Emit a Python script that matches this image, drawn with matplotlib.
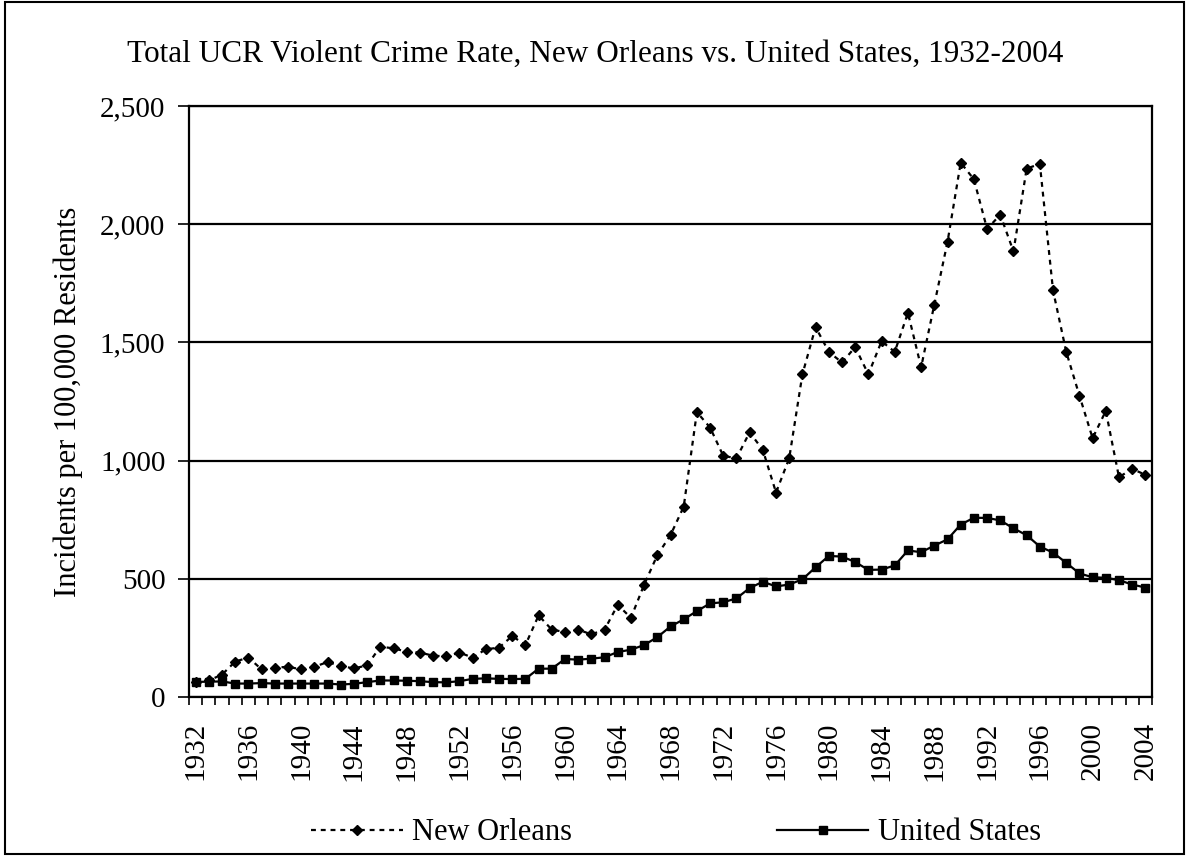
import matplotlib
matplotlib.use("Agg")
import matplotlib.pyplot as plt
from matplotlib.patches import Rectangle
from matplotlib.ticker import FuncFormatter, MultipleLocator

plt.rcParams['font.family'] = ['Liberation Serif', 'DejaVu Serif']

years = list(range(1932, 2005))

new_orleans = [65, 70, 95, 150, 167, 117, 124, 128, 117, 128,
               148, 131, 121, 134, 213, 206, 192, 188, 175, 172,
               188, 167, 202, 209, 258, 220, 345, 285, 275, 285,
               265, 285, 390, 335, 475, 600, 685, 805, 1205, 1140,
               1020, 1010, 1120, 1045, 865, 1010, 1365, 1565, 1460, 1415,
               1480, 1365, 1505, 1460, 1625, 1395, 1660, 1925, 2260, 2190,
               1980, 2040, 1885, 2235, 2255, 1720, 1460, 1275, 1095, 1210,
               930, 965, 940]

united_states = [64, 65, 66, 57, 57, 59, 57, 57, 57, 57,
                 57, 53, 56, 63, 70, 70, 69, 67, 63, 62,
                 67, 77, 79, 77, 76, 77, 120, 120, 160.9, 158.1,
                 162.3, 168.2, 190.6, 200.2, 220.0, 253.2, 298.4, 328.7, 363.5, 396.0,
                 401.0, 417.4, 461.1, 487.8, 467.8, 475.9, 497.8, 548.9, 596.6, 594.3,
                 571.1, 537.7, 539.2, 556.6, 620.1, 612.5, 640.6, 666.9, 729.6, 758.2,
                 757.7, 747.1, 713.6, 684.5, 636.6, 611.0, 567.6, 523.0, 506.5, 504.5,
                 494.4, 475.8, 463.2]

label_years = list(range(1932, 2005, 4))

fig = plt.figure(figsize=(11.86, 8.56), dpi=100)
ax = fig.add_axes([0.1594, 0.1857, 0.8119, 0.6905])

ax.plot(years, new_orleans, linestyle=(0, (2.2, 2.2)), linewidth=1.6, color='black',
        marker='D', markersize=5.5, label='New Orleans')
ax.plot(years, united_states, linestyle='-', linewidth=1.6, color='black',
        marker='s', markersize=6, label='United States')

ax.set_xlim(1931.5, 2004.5)
ax.set_ylim(0, 2500)
ax.yaxis.set_major_locator(MultipleLocator(500))
ax.yaxis.set_major_formatter(FuncFormatter(lambda v, p: f'{int(v):,}'))
ax.grid(axis='y', color='black', linewidth=1.6)
ax.set_axisbelow(True)

ax.set_xticks(label_years)
ax.set_xticklabels([str(y) for y in label_years], rotation=90)
ax.set_xticks([y - 0.5 for y in years] + [2004.5], minor=True)
ax.tick_params(axis='x', which='major', length=0, pad=18, labelsize=21)
ax.tick_params(axis='x', which='minor', length=6, width=1.2, direction='out')
ax.tick_params(axis='y', length=8, width=1.2, direction='out', labelsize=21, pad=9)

for s in ax.spines.values():
    s.set_linewidth(1.6)
    s.set_color('black')

ax.set_ylabel('Incidents per 100,000 Residents', fontsize=22, labelpad=12)
fig.text(0.502, 0.936, 'Total UCR Violent Crime Rate, New Orleans vs. United States, 1932-2004',
         ha='center', va='center', fontsize=22.5)

fig.legend(loc='center', bbox_to_anchor=(0.570, 0.027), ncol=2, frameon=False,
           fontsize=22, handlelength=3.0, columnspacing=6.7, handletextpad=0.3,
           borderaxespad=0, borderpad=0.2)

fig.add_artist(Rectangle((0.004, 0.002), 0.994, 0.996, transform=fig.transFigure,
                         fill=False, edgecolor='black', linewidth=1.5))

fig.savefig('out.png', dpi=100)
